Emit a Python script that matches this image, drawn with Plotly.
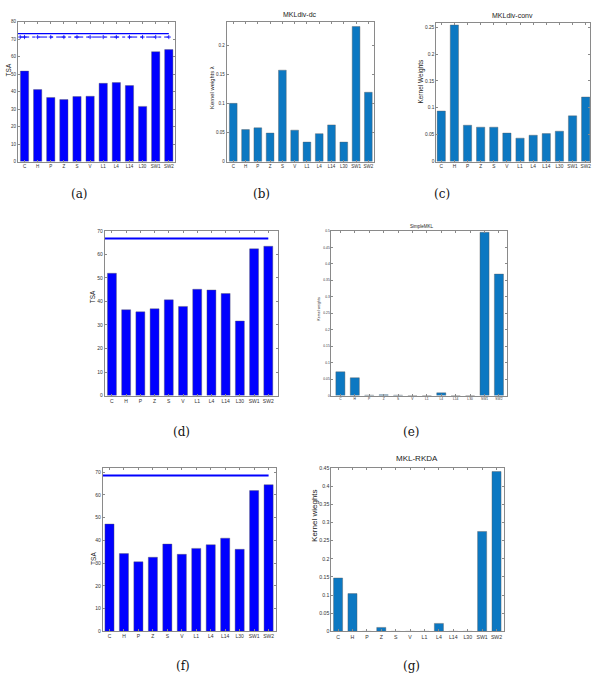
import plotly.graph_objects as go

W, H = 600, 681

categories = ["C", "H", "P", "Z", "S", "V", "L1", "L4", "L14", "L30", "SW1", "SW2"]

# (a) TSA per kernel + two reference lines
tsa_a = [51.8, 41.2, 36.7, 35.5, 37.2, 37.4, 44.8, 45.2, 43.5, 31.6, 62.9, 64.1]
tsa_a_solid = 73.3
tsa_a_dashdot = 71.3
# (b) MKLdiv-dc kernel weights
w_dc = [0.100, 0.055, 0.058, 0.049, 0.157, 0.054, 0.0335, 0.048, 0.063, 0.0335, 0.232, 0.119]
# (c) MKLdiv-conv kernel weights
w_conv = [0.094, 0.254, 0.0676, 0.064, 0.064, 0.053, 0.0436, 0.049, 0.052, 0.0565, 0.085, 0.120]
# (d) TSA per kernel + reference line
tsa_d = [52.0, 36.5, 35.6, 36.9, 40.7, 37.9, 45.2, 44.9, 43.4, 31.7, 62.4, 63.5]
tsa_d_line = 66.8
# (e) SimpleMKL kernel weights
w_simple = [0.072, 0.054, 0.001, 0.002, 0.001, 0.0, 0.0, 0.008, 0.0, 0.0, 0.496, 0.369]
# (f) TSA per kernel + reference line
tsa_f = [47.2, 34.2, 30.6, 32.6, 38.4, 33.9, 36.5, 38.1, 41.0, 36.1, 61.9, 64.5]
tsa_f_line = 68.6
# (g) MKL-RKDA kernel weights
w_rkda = [0.147, 0.104, 0.0, 0.011, 0.0, 0.0, 0.0, 0.022, 0.0, 0.0, 0.275, 0.440]

BLUE = "#0000FF"
MBLUE = "#0C78C2"
AXC = "#8a8a8a"
FONT = "Liberation Sans"

panels = [
    dict(vals=tsa_a, color=BLUE, px=(18, 175), py=(19, 160), xr=(0.5, 12.45), yr=(0, 80), dt=10,
         ylabel="TSA", ylx=8, yly=67, ylf=6.5, tf=4.5, title=None, cap="(a)", capx=80, capy=193),
    dict(vals=w_dc, color=MBLUE, px=(227, 375), py=(19, 160), xr=(0.46, 12.49), yr=(0, 0.24), dt=0.05,
         ylabel="Kernel weights λ", ylx=213, yly=85, ylf=5.8, tf=4.5, title="MKLdiv-dc", tx=300, ty=12, tsz=7,
         cap="(b)", capx=262, capy=193),
    dict(vals=w_conv, color=MBLUE, px=(437, 591), py=(20, 160), xr=(0.62, 12.33), yr=(0, 0.258), dt=0.05,
         ylabel="Kernel Weights", ylx=422, yly=79, ylf=6.5, tf=4.8, title="MKLdiv-conv", tx=513, ty=13, tsz=7,
         cap="(c)", capx=443, capy=193),
    dict(vals=tsa_d, color=BLUE, px=(105, 278), py=(230, 396), xr=(0.5, 12.65), yr=(0, 70), dt=10,
         ylabel="TSA", ylx=93, yly=296, ylf=6.5, tf=5, title=None, cap="(d)", capx=182, capy=433),
    dict(vals=w_simple, color=MBLUE, px=(332, 508), py=(230, 396), xr=(0.38, 12.57), yr=(0, 0.5), dt=0.05,
         ylabel="Kernel weights", ylx=320, yly=308, ylf=3.6, tf=3.3, title="SimpleMKL", tx=423, ty=225, tsz=4.5,
         cap="(e)", capx=412, capy=433),
    dict(vals=tsa_f, color=BLUE, px=(103, 276), py=(469, 634), xr=(0.54, 12.48), yr=(0, 71.9), dt=10,
         ylabel="TSA", ylx=93, yly=560, ylf=6.5, tf=5, title=None, cap="(f)", capx=183, capy=669),
    dict(vals=w_rkda, color=MBLUE, px=(332, 505), py=(469, 634), xr=(0.54, 12.53), yr=(0, 0.45), dt=0.05,
         ylabel="Kernel wieghts", ylx=315, yly=517, ylf=8, tf=5.2, title="MKL-RKDA", tx=418, ty=460, tsz=8,
         cap="(g)", capx=412, capy=669),
]

xs = list(range(1, len(categories) + 1))
fig = go.Figure()
layout = dict(width=W, height=H, margin=dict(l=0, r=0, t=0, b=0), paper_bgcolor="white",
              plot_bgcolor="white", showlegend=False, font=dict(family=FONT, color="#222"))
annotations = []

for i, p in enumerate(panels, start=1):
    xa, ya = f"x{i}", f"y{i}"
    fig.add_trace(go.Bar(x=xs, y=p["vals"], width=0.63,
                         marker=dict(color=p["color"], line=dict(color="#5a5a5a", width=0.4)),
                         xaxis=xa, yaxis=ya))
    layout[f"xaxis{i}"] = dict(domain=[p["px"][0] / W, p["px"][1] / W], anchor=ya, range=list(p["xr"]),
                               tickvals=xs, ticktext=categories, tickangle=0, ticks="inside", ticklen=2,
                               tickcolor=AXC, showline=True, linecolor=AXC, linewidth=1, mirror="ticks",
                               showgrid=False, zeroline=False,
                               tickfont=dict(size=p["tf"], family=FONT, color="#333"), fixedrange=True)
    layout[f"yaxis{i}"] = dict(domain=[1 - p["py"][1] / H, 1 - p["py"][0] / H], anchor=xa, range=list(p["yr"]),
                               dtick=p["dt"], tick0=0, ticks="inside", ticklen=2, tickcolor=AXC,
                               showline=True, linecolor=AXC, linewidth=1, mirror="ticks", showgrid=False,
                               zeroline=False, tickfont=dict(size=p["tf"], family=FONT, color="#333"),
                               fixedrange=True)
    annotations.append(dict(text=p["ylabel"], x=p["ylx"] / W, y=1 - p["yly"] / H, xref="paper", yref="paper",
                            textangle=-90, showarrow=False, font=dict(size=p["ylf"], family=FONT, color="#222"),
                            xanchor="center", yanchor="middle"))
    if p["title"]:
        annotations.append(dict(text=p["title"], x=p["tx"] / W, y=1 - p["ty"] / H, xref="paper", yref="paper",
                                showarrow=False, font=dict(size=p["tsz"], family=FONT, color="#222"),
                                xanchor="center", yanchor="middle"))
    annotations.append(dict(text=p["cap"], x=p["capx"] / W, y=1 - p["capy"] / H, xref="paper", yref="paper",
                            showarrow=False, font=dict(size=12, family="DejaVu Serif", color="#111"),
                            xanchor="center", yanchor="middle"))

# reference lines
n = len(categories)
fig.add_trace(go.Scatter(x=[panels[0]["xr"][0], n], y=[tsa_a_solid] * 2, mode="lines",
                         line=dict(color=BLUE, width=1.2), xaxis="x1", yaxis="y1"))
fig.add_trace(go.Scatter(x=[0.67] + xs, y=[tsa_a_dashdot] * (n + 1), mode="lines+markers",
                         line=dict(color=BLUE, width=1, dash="dashdot"),
                         marker=dict(symbol="cross-thin-open", size=3, color=BLUE, line=dict(color=BLUE, width=0.8)),
                         xaxis="x1", yaxis="y1"))
fig.add_trace(go.Scatter(x=[panels[3]["xr"][0], n], y=[tsa_d_line] * 2, mode="lines",
                         line=dict(color=BLUE, width=2), xaxis="x4", yaxis="y4"))
fig.add_trace(go.Scatter(x=[panels[5]["xr"][0], n], y=[tsa_f_line] * 2, mode="lines",
                         line=dict(color=BLUE, width=2), xaxis="x6", yaxis="y6"))

layout["annotations"] = annotations
fig.update_layout(**layout)
fig.write_html("out.html", config={"displayModeBar": False, "staticPlot": True},
               post_script="document.body.style.margin='0';document.body.style.overflow='hidden';")
